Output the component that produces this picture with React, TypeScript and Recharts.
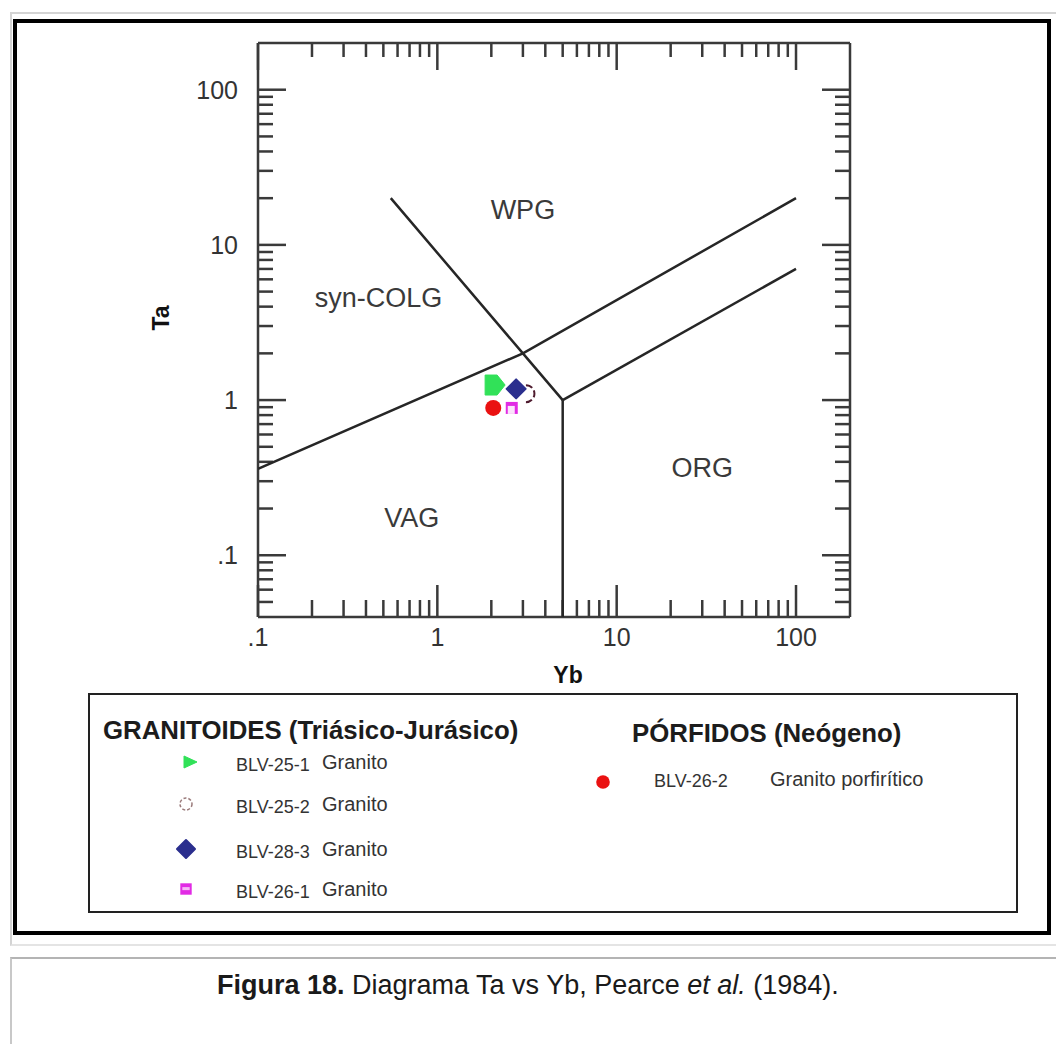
import React from 'react';
import { ScatterChart, Scatter, XAxis, YAxis, ReferenceDot } from 'recharts';

const FONT = '"Liberation Sans", Arial, Helvetica, sans-serif';
const INK = '#333333';

// axes (log-log)
const ybDomain: [number, number] = [0.1, 200];
const taDomain: [number, number] = [0.04, 200];
const ybMajorTicks = [0.1, 1, 10, 100];
const ybMinorTicks = [0.2, 0.3, 0.4, 0.5, 0.6, 0.7, 0.8, 0.9, 2, 3, 4, 5, 6, 7, 8, 9, 20, 30, 40, 50, 60, 70, 80, 90];
const taMajorTicks = [0.1, 1, 10, 100];
const taMinorTicks = [0.05, 0.06, 0.07, 0.08, 0.09, 0.2, 0.3, 0.4, 0.5, 0.6, 0.7, 0.8, 0.9, 2, 3, 4, 5, 6, 7, 8, 9, 20, 30, 40, 50, 60, 70, 80, 90];

// Pearce et al. (1984) field boundaries
const colgWpgLine = [{ yb: 0.55, ta: 20 }, { yb: 3, ta: 2 }, { yb: 5, ta: 1 }];
const vagColgWpgLine = [{ yb: 0.1, ta: 0.36 }, { yb: 3, ta: 2 }, { yb: 100, ta: 20 }];
const vagOrgLine = [{ yb: 5, ta: 1 }, { yb: 5, ta: 0.04 }];
const wpgOrgLine = [{ yb: 5, ta: 1 }, { yb: 100, ta: 7 }];

const fieldNames = ['WPG', 'syn-COLG', 'VAG', 'ORG'];
const fieldYb = [3.0, 0.47, 0.72, 30];
const fieldTa = [17, 4.6, 0.175, 0.37];

// samples
const blv251 = [{ yb: 2.1, ta: 1.25 }];
const blv252 = [{ yb: 3.2, ta: 1.1 }];
const blv283 = [{ yb: 2.75, ta: 1.18 }];
const blv261 = [{ yb: 2.6, ta: 0.89 }];
const blv262 = [{ yb: 2.05, ta: 0.89 }];

const granitoides = [
  { id: 'BLV-25-1', rock: 'Granito' },
  { id: 'BLV-25-2', rock: 'Granito' },
  { id: 'BLV-28-3', rock: 'Granito' },
  { id: 'BLV-26-1', rock: 'Granito' },
];
const porfidos = [{ id: 'BLV-26-2', rock: 'Granito porfirítico' }];

const tickFmt = (v: number) => (v < 1 ? String(v).replace(/^0/, '') : String(v));

type MarkProps = { cx: number; cy: number; s?: number; legend?: boolean };

function Flag({ cx, cy, s = 1, legend }: MarkProps) {
  const pts = legend ? [[-6, -6], [7, 0], [-6, 6]] : [[-10, -10], [2, -10], [10, 0], [2, 10], [-10, 10]];
  const p = pts.map(([x, y]) => `${cx + x * s},${cy + y * s}`).join(' ');
  return <polygon points={p} fill="#31e158" stroke="#31e158" strokeWidth={1} strokeLinejoin="round" />;
}

function DashedRing({ cx, cy, s = 1, legend }: MarkProps) {
  if (legend) {
    return <circle cx={cx} cy={cy} r={6} fill="none" stroke="#9a7a7a" strokeWidth={1.5} strokeDasharray="3 2" />;
  }
  const r = 8.5 * s;
  return <path d={`M ${cx - 2},${cy - r} A ${r} ${r} 0 0 1 ${cx - 2},${cy + r}`} fill="none" stroke="#4e1b2e" strokeWidth={2} strokeDasharray="7 3" />;
}

function Diamond({ cx, cy, s = 1 }: MarkProps) {
  const p = [[0, -10], [10, 0], [0, 10], [-10, 0]].map(([x, y]) => `${cx + x * s},${cy + y * s}`).join(' ');
  return <polygon points={p} fill="#2b2f8e" stroke="#2b2f8e" strokeWidth={2} strokeLinejoin="round" />;
}

function HollowSquare({ cx, cy, s = 1, legend }: MarkProps) {
  const h = 6 * s;
  return (
    <g>
      <rect x={cx - h} y={cy - h} width={2 * h} height={2 * h} fill="#e12be4" />
      <rect x={cx - h + 2} y={cy - h + 4 * s} width={2 * h - (legend ? 4 : 5)} height={(legend ? 1.2 : 2) * h - 4 * s} fill={legend ? '#f6b8f6' : '#fbe3fb'} />
    </g>
  );
}

function Dot({ cx, cy, s = 1 }: MarkProps) {
  return <circle cx={cx} cy={cy} r={8 * s} fill="#ea1111" />;
}

const granitoMarks = [Flag, DashedRing, Diamond, HollowSquare];

const TaTitle = (p: any) => {
  const vb = p.viewBox;
  const x = vb.x - 17;
  const y = vb.y + vb.height / 2 - 12;
  return (
    <text x={x} y={y} transform={`rotate(-90 ${x} ${y})`} textAnchor="middle" dominantBaseline="central" fontWeight="bold" fontSize={23} fill="#111" fontFamily={FONT}>
      Ta
    </text>
  );
};

const YbTitle = (p: any) => {
  const vb = p.viewBox;
  return (
    <text x={vb.x + vb.width / 2 + 14} y={vb.y + 58} textAnchor="middle" dominantBaseline="central" fontWeight="bold" fontSize={23} fill="#111" fontFamily={FONT}>
      Yb
    </text>
  );
};

const frame = { stroke: '#3a3a3a', strokeWidth: 2.5 };
const tickStroke = { stroke: '#3a3a3a', strokeWidth: 2.5 };
const labelStyle = { fontSize: 25, fill: INK, fontFamily: FONT };
const boundary = { stroke: '#262626', strokeWidth: 2.5 };
const noMark = () => <g />;
const noTick = () => <g />;

function Diagram() {
  const xCommon = { type: 'number' as const, scale: 'log' as const, domain: ybDomain, allowDataOverflow: true, interval: 0 as const, dataKey: 'yb' };
  const yCommon = { type: 'number' as const, scale: 'log' as const, domain: taDomain, allowDataOverflow: true, interval: 0 as const, dataKey: 'ta' };
  const inner = { tick: noTick, tickLine: tickStroke, tickMargin: 0, mirror: true };
  return (
    <ScatterChart width={1056} height={700} margin={{ top: 43, right: 206, bottom: 33, left: 178 }}>
      <XAxis {...xCommon} xAxisId="x" orientation="bottom" height={50} ticks={ybMajorTicks} tickFormatter={tickFmt} tickLine={false} tickSize={6} tickMargin={5} axisLine={frame} tick={labelStyle} label={{ content: YbTitle }} />
      <XAxis {...xCommon} {...inner} xAxisId="xbM" orientation="bottom" height={1} ticks={ybMajorTicks} tickSize={32} axisLine={false} />
      <XAxis {...xCommon} {...inner} xAxisId="xbm" orientation="bottom" height={1} ticks={ybMinorTicks} tickSize={16} axisLine={false} />
      <XAxis {...xCommon} {...inner} xAxisId="xtM" orientation="top" height={1} ticks={ybMajorTicks} tickSize={27} axisLine={frame} />
      <XAxis {...xCommon} {...inner} xAxisId="xtm" orientation="top" height={1} ticks={ybMinorTicks} tickSize={13} axisLine={false} />
      <YAxis {...yCommon} yAxisId="y" orientation="left" width={80} ticks={taMajorTicks} tickFormatter={tickFmt} tickLine={false} tickSize={6} tickMargin={14} axisLine={frame} tick={labelStyle} label={{ content: TaTitle }} />
      <YAxis {...yCommon} {...inner} yAxisId="ylM" orientation="left" width={1} ticks={taMajorTicks} tickSize={28} axisLine={false} />
      <YAxis {...yCommon} {...inner} yAxisId="ylm" orientation="left" width={1} ticks={taMinorTicks} tickSize={14} axisLine={false} />
      <YAxis {...yCommon} {...inner} yAxisId="yrM" orientation="right" width={1} ticks={taMajorTicks} tickSize={28} axisLine={frame} />
      <YAxis {...yCommon} {...inner} yAxisId="yrm" orientation="right" width={1} ticks={taMinorTicks} tickSize={14} axisLine={false} />

      {[colgWpgLine, vagColgWpgLine, vagOrgLine, wpgOrgLine].map((ln, i) => (
        <Scatter key={`b${i}`} xAxisId="x" yAxisId="y" data={ln} line={boundary} shape={noMark} isAnimationActive={false} />
      ))}

      {fieldNames.map((n, i) => (
        <ReferenceDot
          key={n}
          xAxisId="x"
          yAxisId="y"
          x={fieldYb[i]}
          y={fieldTa[i]}
          r={0}
          stroke="none"
          label={{ value: n, position: 'center', fontSize: 27, fill: '#3a3a3a', fontFamily: FONT }}
        />
      ))}

      <Scatter name="BLV-25-2" xAxisId="x" yAxisId="y" data={blv252} shape={(p: any) => <DashedRing cx={p.cx} cy={p.cy} />} isAnimationActive={false} />
      <Scatter name="BLV-25-1" xAxisId="x" yAxisId="y" data={blv251} shape={(p: any) => <Flag cx={p.cx} cy={p.cy} />} isAnimationActive={false} />
      <Scatter name="BLV-28-3" xAxisId="x" yAxisId="y" data={blv283} shape={(p: any) => <Diamond cx={p.cx} cy={p.cy} s={0.95} />} isAnimationActive={false} />
      <Scatter name="BLV-26-2" xAxisId="x" yAxisId="y" data={blv262} shape={(p: any) => <Dot cx={p.cx} cy={p.cy} />} isAnimationActive={false} />
      <Scatter name="BLV-26-1" xAxisId="x" yAxisId="y" data={blv261} shape={(p: any) => <HollowSquare cx={p.cx} cy={p.cy} />} isAnimationActive={false} />
    </ScatterChart>
  );
}

function MarkIcon({ Mark, x, y, s }: { Mark: (p: MarkProps) => React.ReactElement; x: number; y: number; s: number }) {
  return (
    <svg width={28} height={28} style={{ position: 'absolute', left: x - 14, top: y - 14 }}>
      <Mark cx={14} cy={14} s={s} legend />
    </svg>
  );
}

function Txt({ x, y, size, bold, children }: { x: number; y: number; size: number; bold?: boolean; children: React.ReactNode }) {
  return (
    <div style={{ position: 'absolute', left: x, top: y, transform: 'translateY(-50%)', fontSize: size, lineHeight: 1, fontWeight: bold ? 'bold' : 'normal', whiteSpace: 'nowrap', color: bold ? '#1c1c1c' : INK }}>
      {children}
    </div>
  );
}

const rowY = [762, 804, 849, 889];
const markScale = [1, 1, 0.9, 0.95];

export default function App() {
  return (
    <div style={{ position: 'absolute', left: 0, top: 0, width: 1056, height: 1044, background: '#fff', overflow: 'hidden', fontFamily: FONT }}>
      <div style={{ position: 'absolute', left: 10, top: 12, width: 1070, height: 934, borderTop: '2px solid #d4d4d4', borderLeft: '2px solid #d4d4d4', borderBottom: '2px solid #e4e4e4', boxSizing: 'border-box' }} />
      <div style={{ position: 'absolute', left: 13, top: 19, width: 1038, height: 916, border: '4px solid #000', boxSizing: 'border-box' }} />
      <div style={{ position: 'absolute', left: 10, top: 957, width: 1070, height: 120, borderTop: '2px solid #b4b4b4', borderLeft: '2px solid #c8c8c8', boxSizing: 'border-box' }} />

      <div style={{ position: 'absolute', left: 0, top: 0 }}>
        <Diagram />
      </div>

      <div style={{ position: 'absolute', left: 88, top: 693, width: 930, height: 220, border: '2px solid #222', boxSizing: 'border-box' }} />
      <Txt x={103} y={731} size={25.8} bold>GRANITOIDES (Triásico-Jurásico)</Txt>
      {granitoides.map((g, i) => (
        <React.Fragment key={g.id}>
          <MarkIcon Mark={granitoMarks[i]} x={i === 0 ? 190 : 186} y={rowY[i]} s={markScale[i]} />
          <Txt x={236} y={rowY[i] + 3} size={18}>{g.id}</Txt>
          <Txt x={322} y={rowY[i]} size={20}>{g.rock}</Txt>
        </React.Fragment>
      ))}
      <Txt x={632} y={734} size={25.8} bold>PÓRFIDOS (Neógeno)</Txt>
      {porfidos.map((g) => (
        <React.Fragment key={g.id}>
          <MarkIcon Mark={Dot} x={603} y={782} s={0.85} />
          <Txt x={654} y={781} size={18}>{g.id}</Txt>
          <Txt x={770} y={779} size={20}>{g.rock}</Txt>
        </React.Fragment>
      ))}

      <div style={{ position: 'absolute', left: 217, top: 969, fontSize: 27, lineHeight: 1.2, color: '#1a1a1a', whiteSpace: 'nowrap' }}>
        <b>Figura 18.</b> Diagrama Ta vs Yb, Pearce <i>et al.</i> (1984).
      </div>
    </div>
  );
}
